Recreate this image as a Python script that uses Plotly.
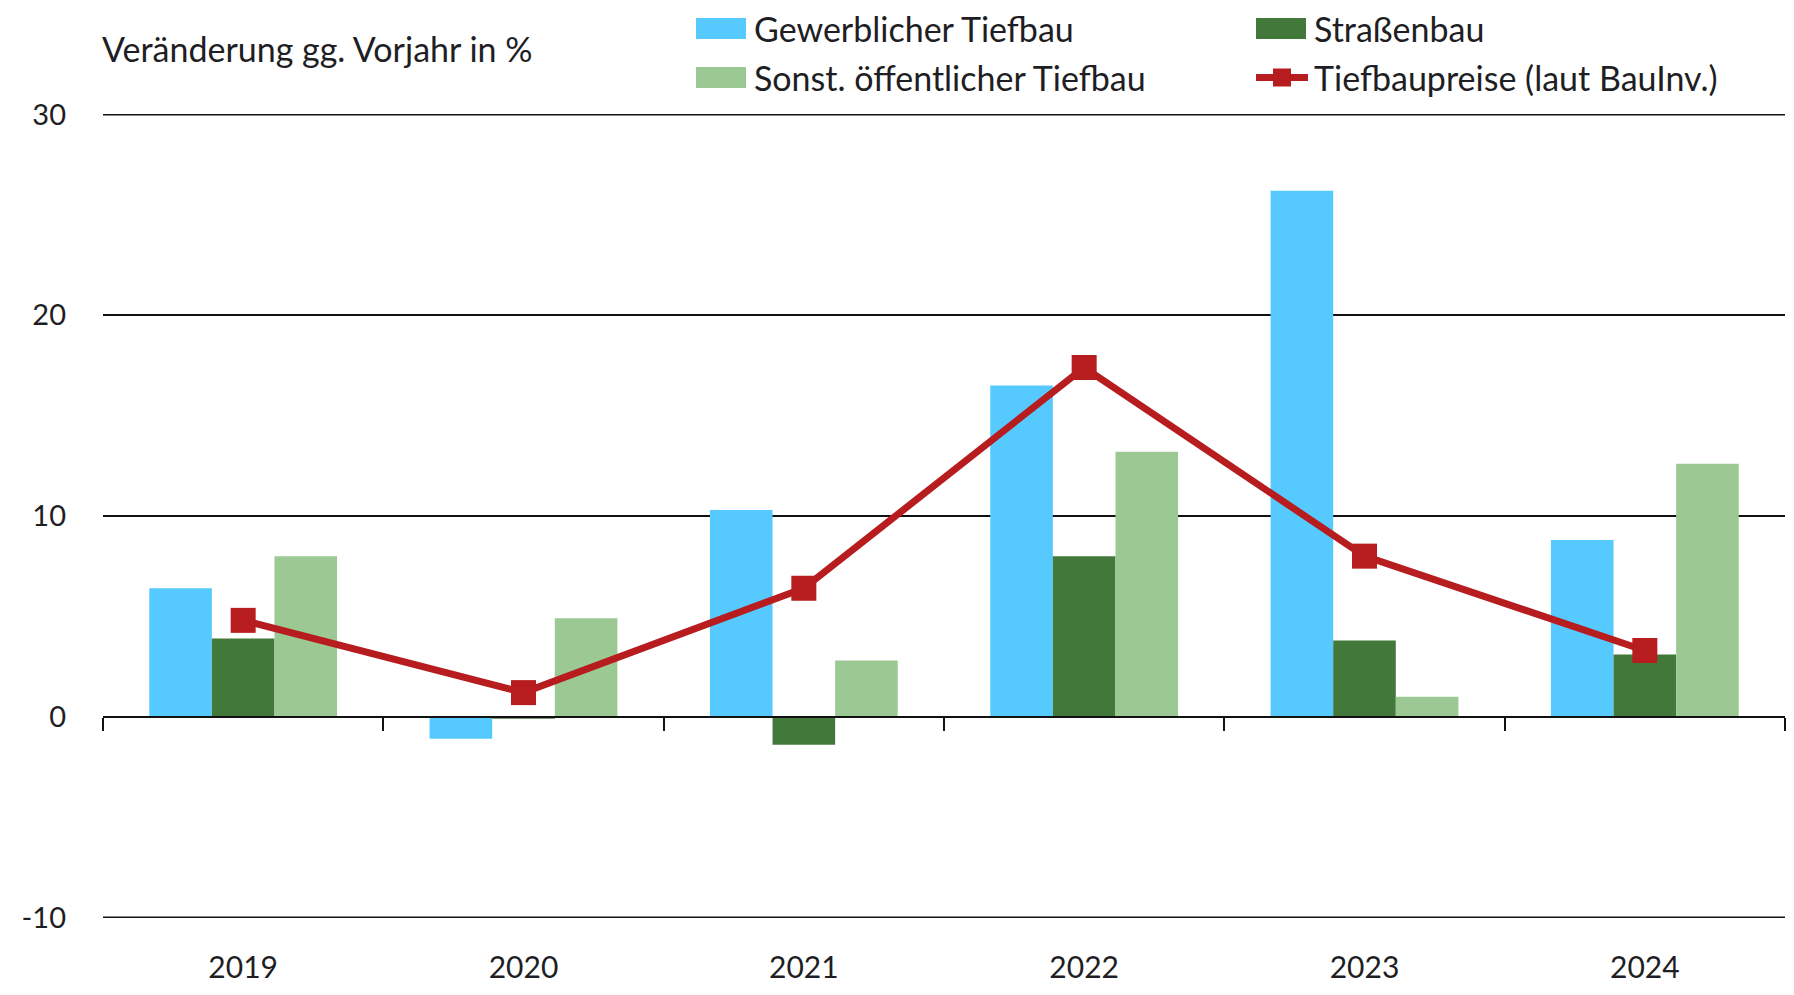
import plotly.graph_objects as go

# ---- data ----
years = ["2019", "2020", "2021", "2022", "2023", "2024"]
gewerblich = [6.4, -1.1, 10.3, 16.5, 26.2, 8.8]
strassenbau = [3.9, -0.1, -1.4, 8.0, 3.8, 3.1]
sonst_oeff = [8.0, 4.9, 2.8, 13.2, 1.0, 12.6]
tiefbaupreise = [4.8, 1.2, 6.4, 17.4, 8.0, 3.3]

names = ["Gewerblicher Tiefbau", "Straßenbau", "Sonst. öffentlicher Tiefbau",
         "Tiefbaupreise (laut BauInv.)"]
colors = ["#56CAFF", "#43783B", "#9CC993", "#B71C1E"]
y_ticks = [-10, 0, 10, 20, 30]
y_ticktext = [str(v) for v in y_ticks]
y_title = "Veränderung gg. Vorjahr in %"

W, H = 1794, 995
L, R, T, B = 103, 9, 114, 77
FONT = "Lato"
TXT = "#1e1e24"
GRID = "#111111"

fig = go.Figure()
for vals, name, col in zip([gewerblich, strassenbau, sonst_oeff], names[:3], colors[:3]):
    fig.add_trace(go.Bar(x=years, y=vals, name=name, marker=dict(color=col, line=dict(width=0)),
                         showlegend=False))
fig.add_trace(go.Scatter(x=years, y=tiefbaupreise, name=names[3], mode="lines+markers",
                         line=dict(color=colors[3], width=7),
                         marker=dict(symbol="square", size=25, color=colors[3]),
                         showlegend=False))
# helper trace so the zero-line axis (x2) is rendered
fig.add_trace(go.Scatter(x=years, y=[None] * len(years), xaxis="x2", showlegend=False,
                         hoverinfo="skip"))

ymin, ymax = y_ticks[0], y_ticks[-1]
pad = 0.03
rng = [ymin - pad, ymax + pad]
zero_pos = (0 - rng[0]) / (rng[1] - rng[0])

pw = W - L - R
ph = H - T - B
def px(x):
    return (x - L) / pw
def py(y):
    return (H - B - y) / ph

shapes = []
annotations = []
# gridlines at the range edges (plotly omits those)
for v in (ymin, ymax):
    shapes.append(dict(type="line", xref="paper", yref="y", x0=0, x1=1, y0=v, y1=v,
                       line=dict(color=GRID, width=2), layer="below"))
# manual legend
leg = [
    (0, 696, 28.5, 752),
    (1, 1256, 28.5, 1312),
    (2, 696, 77.5, 752),
    (3, 1256, 77.5, 1312),
]
for idx, x0, yc, xt in leg:
    if idx < 3:
        shapes.append(dict(type="rect", xref="paper", yref="paper",
                           x0=px(x0), x1=px(x0 + 50), y0=py(yc + 10.5), y1=py(yc - 10.5),
                           fillcolor=colors[idx], line=dict(width=0)))
    else:
        shapes.append(dict(type="line", xref="paper", yref="paper",
                           x0=px(x0), x1=px(x0 + 52), y0=py(yc), y1=py(yc),
                           line=dict(color=colors[idx], width=7)))
        shapes.append(dict(type="rect", xref="paper", yref="paper",
                           x0=px(x0 + 17), x1=px(x0 + 35), y0=py(yc + 9), y1=py(yc - 9),
                           fillcolor=colors[idx], line=dict(width=0)))
    annotations.append(dict(xref="paper", yref="paper", x=px(xt), y=py(yc),
                            xanchor="left", yanchor="middle", showarrow=False,
                            text=names[idx], font=dict(family=FONT, size=34, color=TXT)))

annotations.append(dict(xref="paper", yref="paper", x=px(100), y=py(48),
                        xanchor="left", yanchor="middle", showarrow=False,
                        text=y_title, font=dict(family=FONT, size=34, color=TXT)))

fig.update_layout(
    width=W, height=H,
    margin=dict(l=L, r=R, t=T, b=B),
    plot_bgcolor="white", paper_bgcolor="white",
    barmode="group", bargap=0.33, bargroupgap=0,
    font=dict(family=FONT, size=29, color=TXT),
    xaxis=dict(type="category", showgrid=False, showline=False, ticks="",
               zeroline=False, tickfont=dict(size=30, color=TXT),
               ticklabelstandoff=29),
    xaxis2=dict(type="category", overlaying="x", matches="x", anchor="free",
                position=zero_pos, showline=True, linecolor=GRID, linewidth=2,
                ticks="outside", tickson="boundaries", ticklen=13, tickwidth=1.5,
                tickcolor=GRID, showticklabels=False, showgrid=False, zeroline=False),
    yaxis=dict(range=rng, tickvals=y_ticks, ticktext=y_ticktext, showgrid=True,
               gridcolor=GRID, gridwidth=2, zeroline=False, showline=False,
               ticks="", tickfont=dict(size=29, color=TXT), ticklabelstandoff=36),
    shapes=shapes,
    annotations=annotations,
)

fig.write_html("out.html", config={"displayModeBar": False},
               post_script="document.body.style.margin='0';document.body.style.overflow='hidden';")
